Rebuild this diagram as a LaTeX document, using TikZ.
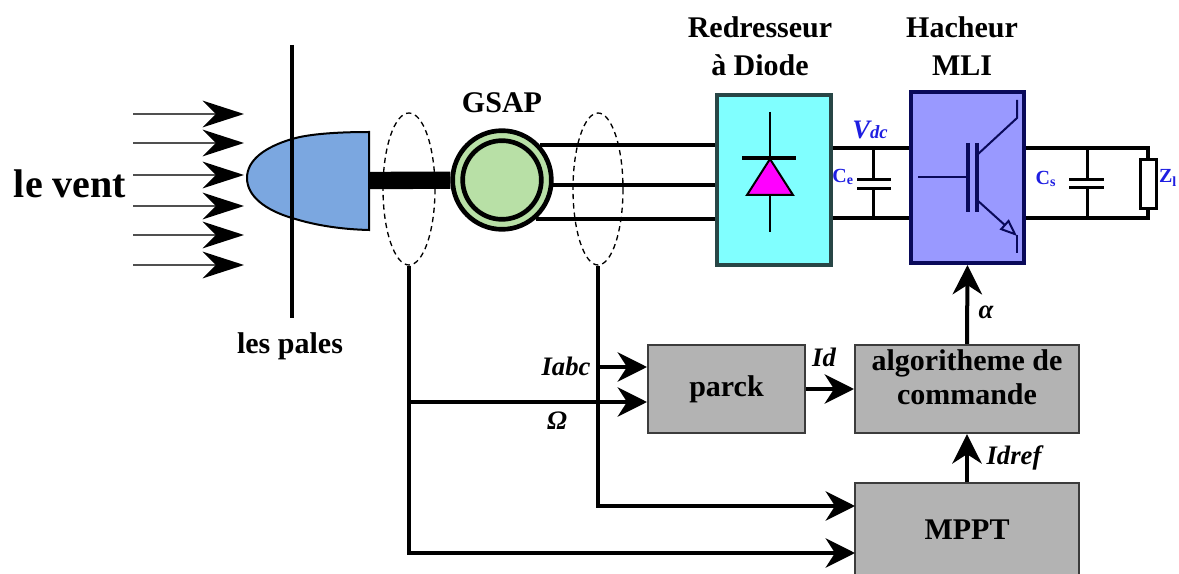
\documentclass[tikz,border=0pt]{standalone}
\usepackage{fontspec}
\setmainfont{Liberation Serif}
\usetikzlibrary{arrows.meta}

\definecolor{moyeu}{RGB}{123,167,224}
\definecolor{gsapvert}{RGB}{184,224,166}
\definecolor{redrcyan}{RGB}{128,255,255}
\definecolor{redrbord}{RGB}{40,70,70}
\definecolor{hachbleu}{RGB}{153,153,255}
\definecolor{hachbord}{RGB}{10,10,90}
\definecolor{blocgris}{RGB}{179,179,179}
\definecolor{bleutxt}{RGB}{30,30,225}
\definecolor{diodemag}{RGB}{255,0,255}

\tikzset{every picture/.style={line width=0.75pt}}
\tikzset{
  titre/.style={font=\bfseries\fontsize{22.5}{28.5}\selectfont, align=center, inner sep=0pt},
  grandeur/.style={font=\bfseries\itshape\fontsize{20}{20}\selectfont, inner sep=0pt},
  composant/.style={font=\bfseries\fontsize{15}{15}\selectfont, text=bleutxt, inner sep=0pt},
  bloc/.style={draw={rgb,255:red,60;green,60;blue,60}, line width=1.5, fill=blocgris, font=\bfseries\fontsize{22.5}{26}\selectfont, align=center},
  puissance/.style={line width=3},
  signal/.style={line width=3, -{Stealth[length=22pt,width=22pt,inset=7pt]}},
  souffle/.style={line width=1.5, draw={rgb,255:red,80;green,80;blue,80}, -{Stealth[length=31pt,width=20pt,inset=10pt,color=black]}},
  capteur/.style={dashed, dash pattern=on 4pt off 3pt, line width=1},
  igbt/.style={draw=hachbord, line width=1.5}
}

\begin{document}
\begin{tikzpicture}[x=0.75pt,y=0.75pt,yscale=-1,xscale=1]
\useasboundingbox (0,0) rectangle (1179,574);

% le vent
\node[font=\bfseries\fontsize{30}{30}\selectfont, inner sep=0pt] (vent) at (70,184) {le vent};
\foreach \y in {114,143,175,206,235,265}
  \draw[souffle] (133,\y) -- (244,\y);

% moyeu et pales
\draw[fill=moyeu, line width=1.5] (369,132) .. controls (330,132) and (305,135) .. (292,139) .. controls (265,147) and (247,160) .. (247,178) .. controls (247,196) and (265,210) .. (292,218) .. controls (305,222) and (330,229) .. (369,230) -- cycle;
\draw[line width=3.2] (292,45) -- (292,318);
\node[titre] (pales) at (290,346) {les pales};

% generatrice
\node[circle, draw, line width=3.5, fill=gsapvert, minimum size=74pt, inner sep=0pt] (gen) at (502,180) {};
\node[circle, draw, line width=3.5, fill=gsapvert, minimum size=59pt, inner sep=0pt] (genin) at (gen) {};
\node[titre] (gsap) at (502,103) {GSAP};
\coordinate (hub) at (369,180.5);
\draw[line width=13] (hub) -- (gen);

% redresseur
\node[draw=redrbord, line width=2.5, fill=redrcyan, minimum width=85.5pt, minimum height=127.5pt] (rect) at (774,180) {};
\node[titre] (trect) at (760,46) {Redresseur\\à Diode};
\draw[puissance] (gen.42) -- (gen.42 -| rect.west);
\draw[puissance] (gen.-5) -- (gen.-5 -| rect.west);
\draw[puissance] (gen.-49) -- (gen.-49 -| rect.west);
% diode
\draw[line width=1.5] (770,112) -- (770,232);
\draw[line width=2.5] (742,158) -- (796,158);
\draw[line width=1.5, fill=diodemag] (770,159) -- (793,195) -- (747,195) -- cycle;

% hacheur
\node[draw=hachbord, line width=3, fill=hachbleu, minimum width=84.75pt, minimum height=128.25pt] (hach) at (967.5,177.5) {};
\node[titre] (thach) at (962,46) {Hacheur\\MLI};
% igbt
\draw[igbt] (918,177) -- (968,177);
\draw[igbt, line width=2.5] (968,143) -- (968,212);
\draw[igbt, line width=2.5] (977,143) -- (977,212);
\draw[igbt] (977,155) -- (1017,118) -- (1017,100);
\draw[igbt, -{Triangle[open,length=13pt,width=10pt]}] (977,200) -- (1017,236);
\draw[igbt] (1017,235) -- (1017,253);

% bus continu
\coordinate (lp) at (0,148);
\coordinate (ln) at (0,218);
\draw[puissance] (rect.east |- lp) -- (hach.west |- lp);
\draw[puissance] (rect.east |- ln) -- (hach.west |- ln);
\draw[line width=2.25] (873,148) -- (873,180) (857,180) -- (891,180) (857,189) -- (891,189) (873,189) -- (873,218);
\node[composant] (ce) at (843,177) {C\textsubscript{e}};
\node[font=\bfseries\itshape\fontsize{20}{20}\selectfont, text=bleutxt, inner sep=0pt] (vdc) at (870,130) {V{\fontsize{14}{14}\selectfont dc}};

% charge
\node[draw, line width=2.25, fill=white, minimum width=12pt, minimum height=36.75pt, inner sep=0pt] (zl) at (1148,184.5) {};
\draw[puissance] (hach.east |- lp) -| (zl.north);
\draw[puissance] (hach.east |- ln) -| (zl.south);
\draw[line width=2.25] (1087,148) -- (1087,180) (1069,180) -- (1104,180) (1069,188) -- (1104,188) (1087,188) -- (1087,218);
\node[composant] (cs) at (1046,179) {C\textsubscript{s}};
\node[composant] (tzl) at (1168,178) {Z\textsubscript{l}};

% capteurs
\draw[capteur] (409,189) ellipse [x radius=26, y radius=76];
\draw[capteur] (598,189) ellipse [x radius=25, y radius=76];
\coordinate (s1) at (409,266);
\coordinate (s2) at (598,266);

% commande
\node[bloc, minimum width=117.75pt, minimum height=66pt] (parck) at (726.5,389) {parck};
\node[bloc, minimum width=168pt, minimum height=66pt, text depth=18pt] (algo) at (967,389) {algoritheme de\\commande};
\node[bloc, minimum width=168pt, minimum height=69.75pt] (mppt) at (967,529.5) {MPPT};

\coordinate (iabc) at (598,367);
\coordinate (omg) at (409,402);
\coordinate (mp1) at (855,506);
\coordinate (mp2) at (855,553);
\draw[line width=3] (s2) -- (iabc);
\draw[line width=3] (s1) -- (omg);
\draw[signal] (iabc) -- (iabc -| parck.west);
\draw[signal] (omg) -- (omg -| parck.west);
\draw[signal] (iabc) |- (mp1);
\draw[signal] (omg) |- (mp2);
\draw[signal] (parck.east) -- (algo.west);
\draw[signal] (algo.north) -- (hach.south);
\draw[signal] (mppt.north) -- (algo.south);

\node[grandeur] (tiabc) at (566,366) {Iabc};
\node[grandeur] (tomg) at (557,421) {Ω};
\node[grandeur] (tid) at (824,357) {Id};
\node[grandeur] (talpha) at (986,312) {α};
\node[grandeur] (tidref) at (1014,458) {Idref};

\end{tikzpicture}
\end{document}
